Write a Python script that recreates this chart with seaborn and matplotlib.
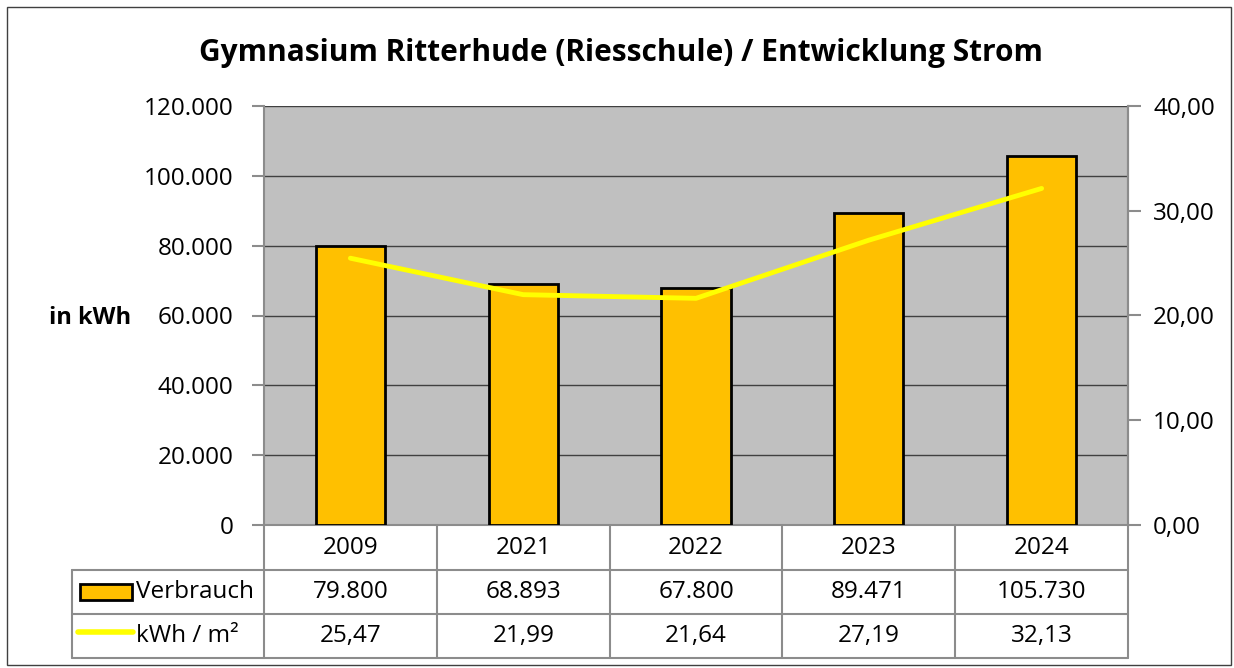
import numpy as np
import pandas as pd
import matplotlib.pyplot as plt
import seaborn as sns
from matplotlib.ticker import FuncFormatter
from matplotlib.patches import Rectangle

# daten
years = ['2009', '2021', '2022', '2023', '2024']
verbrauch = [79800, 68893, 67800, 89471, 105730]
kwh_m2 = [25.47, 21.99, 21.64, 27.19, 32.13]

W, H = 1234, 668
sns.set_theme(style='white')
plt.rcParams['font.family'] = ['Open Sans', 'DejaVu Sans']
plt.rcParams['text.color'] = 'black'
plt.rcParams['ytick.labelcolor'] = 'black'
FS = 17.5

fig = plt.figure(figsize=(W / 100, H / 100), dpi=100)

# plotbereich in pixeln
L, R, T, B = 264, 1128, 106, 525
ax = fig.add_axes([L / W, 1 - B / H, (R - L) / W, (B - T) / H])
ax.set_facecolor('#c0c0c0')

df = pd.DataFrame({'jahr': years, 'verbrauch': verbrauch})
sns.barplot(data=df, x='jahr', y='verbrauch', color='#ffc000', edgecolor='black',
            linewidth=2, width=0.4, saturation=1, ax=ax, zorder=3)
ax.set_ylim(0, 120000)
ax.set_yticks(range(0, 120001, 20000))
ax.yaxis.set_major_formatter(FuncFormatter(lambda v, p: f'{int(v):,}'.replace(',', '.')))
ax.yaxis.grid(True, color='#404040', lw=1)
ax.set_axisbelow(True)
ax.set_xlabel('')
ax.set_ylabel('')
ax.tick_params(axis='x', length=0, labelbottom=False)
ax.tick_params(axis='y', direction='out', length=9, width=1.5, color='#8c8c8c',
               labelcolor='black', labelsize=FS, pad=13, left=True)
for s in ['left', 'bottom', 'right']:
    ax.spines[s].set_color('#8c8c8c')
    ax.spines[s].set_linewidth(1.5)
ax.spines['top'].set_visible(False)

# zweite achse kWh / m²
ax2 = ax.twinx()
sns.lineplot(x=np.arange(len(years)), y=kwh_m2, ax=ax2, color='#ffff00', lw=3.5, zorder=4)
ax2.set_ylim(0, 40)
ax2.set_yticks(range(0, 41, 10))
ax2.yaxis.set_major_formatter(FuncFormatter(lambda v, p: f'{v:.2f}'.replace('.', ',')))
ax2.tick_params(axis='y', direction='out', length=9, width=1.5, color='#8c8c8c',
                labelcolor='black', labelsize=FS, pad=9, right=True)
for s in ['left', 'top', 'bottom']:
    ax2.spines[s].set_visible(False)
ax2.spines['right'].set_color('#8c8c8c')
ax2.spines['right'].set_linewidth(1.5)
ax.set_xlim(-0.5, len(years) - 0.5)

fig.text(621 / W, 1 - 53 / H, 'Gymnasium Ritterhude (Riesschule) / Entwicklung Strom',
         ha='center', va='center', fontsize=21.5, fontweight='bold', color='black')
fig.text(90 / W, 1 - 318 / H, 'in kWh', ha='center', va='center', fontsize=17,
         fontweight='bold', color='black')

# datentabelle unten
tab = fig.add_axes([0, 0, 1, 1])
tab.set_xlim(0, W)
tab.set_ylim(H, 0)
tab.axis('off')
tab.patch.set_alpha(0)

edges = np.linspace(L, R, len(years) + 1)
rows = [525, 570, 614, 658]
lc = '#8c8c8c'
for x in edges:
    tab.plot([x, x], [rows[0], rows[-1]], color=lc, lw=1.5)
tab.plot([72, 72], [rows[1], rows[-1]], color=lc, lw=1.5)
for y in rows[1:]:
    tab.plot([72, R], [y, y], color=lc, lw=1.5)

for i, yr in enumerate(years):
    cx = (edges[i] + edges[i + 1]) / 2
    tab.text(cx, (rows[0] + rows[1]) / 2, yr, ha='center', va='center', fontsize=FS)
    tab.text(cx, (rows[1] + rows[2]) / 2, f'{verbrauch[i]:,}'.replace(',', '.'),
             ha='center', va='center', fontsize=FS)
    tab.text(cx, (rows[2] + rows[3]) / 2, f'{kwh_m2[i]:.2f}'.replace('.', ','),
             ha='center', va='center', fontsize=FS)

tab.add_patch(Rectangle((80, 584), 52, 16, facecolor='#ffc000', edgecolor='black', lw=2))
tab.plot([78, 133], [632, 632], color='#ffff00', lw=4, solid_capstyle='round')
tab.text(136, (rows[1] + rows[2]) / 2, 'Verbrauch', ha='left', va='center', fontsize=FS)
tab.text(136, (rows[2] + rows[3]) / 2, 'kWh / m²', ha='left', va='center', fontsize=FS)

# rahmen
tab.add_patch(Rectangle((7, 7), 1224, 658, facecolor='none', edgecolor='#404040', lw=1))

fig.savefig('out.png', dpi=100)
